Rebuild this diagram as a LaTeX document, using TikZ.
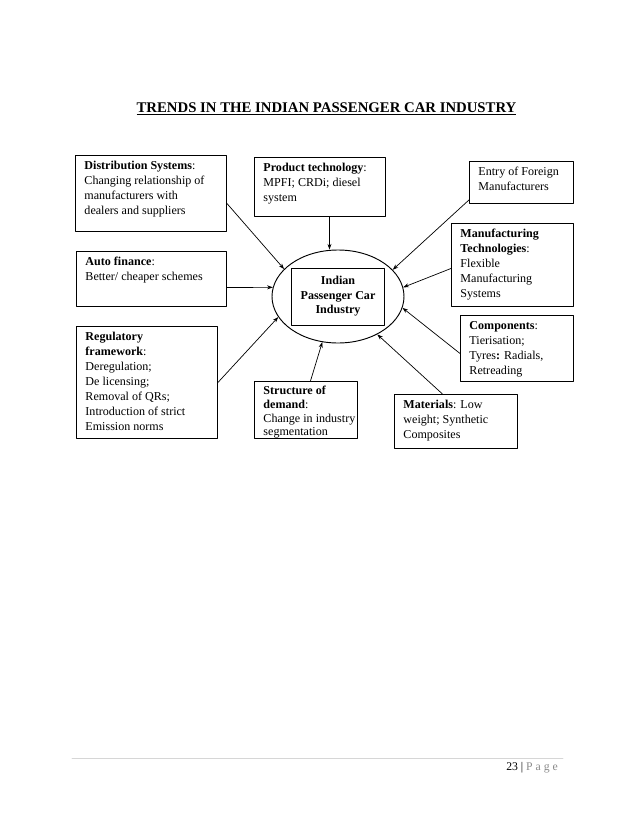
\documentclass[tikz,border=0pt]{standalone}
\usepackage{fontspec}
\setmainfont{Liberation Serif}
\usepackage{tikz}
\usetikzlibrary{arrows.meta,positioning,calc,shapes.geometric}
\definecolor{rulegray}{HTML}{D6D6D6}
\definecolor{pagegray}{HTML}{8A8A8A}
\newlength{\px}
\setlength{\px}{0.3mm}
% box text: width, height (in px), contents set from the top
\newcommand{\boxtext}[3]{\parbox[t][#2\px][t]{#1\px}{\raggedright #3}}
\tikzset{
    every picture/.style={line cap=round,line join=round},
    trendbox/.style={draw=black,line width=0.8pt,anchor=north west,
      inner xsep=9*\px,inner ysep=6*\px,
      font=\fontsize{10.3}{12.8}\selectfont},
    hub/.style={draw=black,ellipse,line width=0.8pt,inner sep=0pt,
      minimum width=132*\px,minimum height=93*\px},
    hubbox/.style={draw=black,line width=0.8pt,inner sep=1pt,
      minimum width=93*\px,minimum height=57*\px,align=center,
      font=\fontsize{10.3}{12.3}\selectfont\bfseries},
    flowarrow/.style={-{Stealth[length=1.7mm,width=1.2mm]},draw=black,
      line width=0.6pt}
}
\begin{document}
\begin{tikzpicture}[x=0.3mm,y=0.3mm]
  \fill[white] (0,0) rectangle (638,-826);
  \useasboundingbox (0,0) rectangle (638,-826);
  \node[anchor=base,font=\fontsize{12.6}{15}\selectfont\bfseries] (title)
    at (326.5,-112) {\underline{TRENDS IN THE INDIAN PASSENGER CAR INDUSTRY}};

  % centre
  \node[hub] (core) at (338,-296.5) {};
  \node[hubbox] (corebox) at (core.center) {Indian\\Passenger Car\\Industry};

  % boxes round the centre
  \node[trendbox] (dist) at (75,-155) {\boxtext{133}{64}{\textbf{Distribution Systems}:\\
    Changing relationship of\\manufacturers with\\dealers and suppliers}};
  \node[trendbox] (prod) at (254,-157) {\boxtext{113}{47}{\textbf{Product technology}:\\
    MPFI; CRDi; diesel\\system}};
  \node[trendbox] (entry) at (469,-161) {\boxtext{86}{30}{Entry of Foreign\\Manufacturers}};
  \node[trendbox] (manu) at (451,-223) {\boxtext{104}{71}{\textbf{Manufacturing}\\
    \textbf{Technologies}:\\Flexible\\Manufacturing\\Systems}};
  \node[trendbox] (auto) at (76,-251) {\boxtext{132}{43}{\textbf{Auto finance}:\\
    Better/ cheaper schemes}};
  \node[trendbox] (comp) at (460,-315) {\boxtext{95}{54}{\textbf{Components}:\\
    Tierisation;\\Tyres\textbf{:} Radials,\\Retreading}};
  \node[trendbox] (reg) at (76,-326) {\boxtext{123}{100}{\textbf{Regulatory}\\
    \textbf{framework}:\\Deregulation;\\De licensing;\\Removal of QRs;\\
    Introduction of strict\\Emission norms}};
  \node[trendbox,inner ysep=5*\px] (dem) at (254,-381) {\boxtext{85}{47}{%
    \fontsize{10.3}{11.6}\selectfont\textbf{Structure of}\\
    \textbf{demand}:\\\makebox[85\px][l]{Change in industry}\\segmentation}};
  \node[trendbox] (mat) at (394,-394) {\boxtext{105}{42}{\textbf{Materials}: Low\\
    weight; Synthetic\\Composites}};

  % arrows into the centre
  \draw[flowarrow] ([yshift=-10*\px]dist.east) -- (core.153);
  \draw[flowarrow] ([xshift=9.5*\px]prod.south) -- ([xshift=9.5*\px]prod.south |- core.north);
  \draw[flowarrow] ([yshift=4*\px]entry.south west) -- (core.26);
  \draw[flowarrow] ([yshift=-3.5*\px]manu.west) -- (core.8);
  \draw[flowarrow] ([yshift=-5*\px]comp.west) -- (core.-10);
  \draw[flowarrow] ([xshift=-13.5*\px]mat.north) -- (core.-44);
  \draw[flowarrow] ([xshift=4.5*\px]dem.north) -- (core.-109);
  \draw[flowarrow] (reg.east) -- (core.199);
  \draw[flowarrow] ([yshift=-8.5*\px]auto.east) -- (core.172);

  % page footer
  \coordinate (footl) at (72,-758);
  \coordinate (footr) at (563,-758);
  \draw[rulegray,line width=0.6pt] (footl) -- (footr);
  \node[anchor=base east,font=\fontsize{10}{12}\selectfont,inner sep=0pt] (pageno)
    at (558,-770) {23 | \textcolor{pagegray}{P a g e}};
\end{tikzpicture}
\end{document}
